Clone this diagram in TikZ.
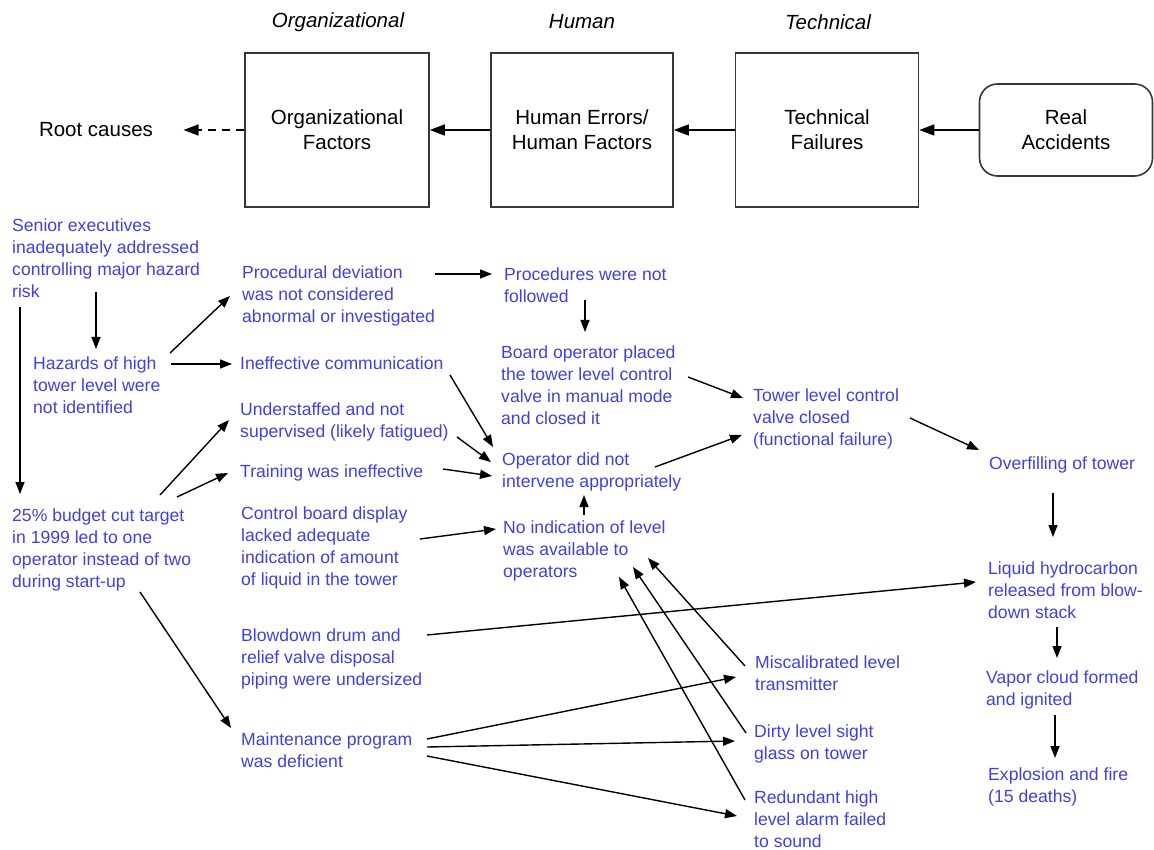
\documentclass[tikz,border=0pt]{standalone}
\usepackage{fontspec}
\setmainfont{Liberation Sans}
\usetikzlibrary{arrows.meta}
\definecolor{txtblue}{RGB}{64,64,224}
\definecolor{boxgray}{RGB}{55,55,55}
\begin{document}
\begin{tikzpicture}[x=1pt,y=-1pt,
  big/.style={font=\fontsize{20.5}{25}\selectfont, align=center},
  box/.style={big, draw=boxgray, line width=1.6pt, minimum height=154pt, inner sep=0pt},
  lbl/.style={font=\fontsize{20.5}{25}\selectfont\itshape},
  bt/.style={text=txtblue, font=\fontsize{17.6}{22}\selectfont, align=left, anchor=base west, inner sep=0pt},
  arr/.style={-{Triangle[length=12pt,width=9pt]}, line width=1.4pt},
  barr/.style={-{Triangle[length=15pt,width=11pt]}, line width=1.5pt},
]
\useasboundingbox (0,0) rectangle (1154,850);
% top row
\node[box, minimum width=184pt] (org) at (337,130) {Organizational\\Factors};
\node[box, minimum width=182pt] (hum) at (582,130) {Human Errors/\\Human Factors};
\node[box, minimum width=183pt] (tec) at (827,130) {Technical\\Failures};
\node[box, minimum width=173pt, minimum height=92pt, rounded corners=18pt] (real) at (1066,130) {Real\\Accidents};
\node[big] (rc) at (96,130) {Root causes};
\node[lbl] (lorg) at (338,22) {Organizational};
\node[lbl] (lhum) at (582,22) {Human};
\node[lbl] (ltec) at (828,22) {Technical};
\draw[barr] (hum.west) -- (org.east);
\draw[barr] (tec.west) -- (hum.east);
\draw[barr] (real.west) -- (tec.east);
\draw[barr, dash pattern=on 8pt off 6pt] (org.west) -- ([xshift=27pt]rc.east);
% blue texts (placed at the baseline of their last line)
\node[bt] (se) at (12,298) {Senior executives\\inadequately addressed\\controlling major hazard\\risk};
\node[bt] (hz) at (33,413) {Hazards of high\\tower level were\\not identified};
\node[bt] (bc) at (12,587) {25\% budget cut target\\in 1999 led to one\\operator instead of two\\during start-up};
\node[bt] (pd) at (242,323) {Procedural deviation\\was not considered\\abnormal or investigated};
\node[bt] (ic) at (240,370) {Ineffective communication};
\node[bt] (us) at (240,437) {Understaffed and not\\supervised (likely fatigued)};
\node[bt] (tr) at (240,477) {Training was ineffective};
\node[bt] (cb) at (241,585) {Control board display\\lacked adequate\\indication of amount\\of liquid in the tower};
\node[bt] (bd) at (241,685) {Blowdown drum and\\relief valve disposal\\piping were undersized};
\node[bt] (mp) at (241,767) {Maintenance program\\was deficient};
\node[bt] (pf) at (504,303) {Procedures were not\\followed};
\node[bt] (bo) at (501,424) {Board operator placed\\the tower level control\\valve in manual mode\\and closed it};
\node[bt] (od) at (502,487) {Operator did not\\intervene appropriately};
\node[bt] (ni) at (503,577) {No indication of level\\was available to\\operators};
\node[bt] (tl) at (753,445) {Tower level control\\valve closed\\(functional failure)};
\node[bt] (of) at (989,469) {Overfilling of tower};
\node[bt] (lh) at (988,618) {Liquid hydrocarbon\\released from blow-\\down stack};
\node[bt] (vc) at (986,705) {Vapor cloud formed\\and ignited};
\node[bt] (ef) at (988,802) {Explosion and fire\\(15 deaths)};
\node[bt] (mc) at (755,690) {Miscalibrated level\\transmitter};
\node[bt] (dl) at (754,759) {Dirty level sight\\glass on tower};
\node[bt] (rh) at (754,847) {Redundant high\\level alarm failed\\to sound};
% connectors
\draw[arr] ([shift={(84,-6)}]se.base west) -- ([shift={(63,-64)}]hz.base west);
\draw[arr] ([shift={(8,9)}]se.base west) -- ([shift={(8,-93)}]bc.base west);
\draw[arr] ([shift={(137,-60)}]hz.base west) -- ([shift={(-12,-27)}]pd.base west);
\draw[arr] ([shift={(138,-49)}]hz.base west) -- ([shift={(-8,-6)}]ic.base west);
\draw[arr] ([shift={(148,-92)}]bc.base west) -- ([shift={(-11,-17)}]us.base west);
\draw[arr] ([shift={(165,-90)}]bc.base west) -- ([shift={(-12,-4)}]tr.base west);
\draw[arr] ([shift={(128,5)}]bc.base west) -- ([shift={(-10,-39)}]mp.base west);
\draw[arr] ([shift={(193,-49)}]pd.base west) -- ([shift={(-12,-29)}]pf.base west);
\draw[arr] ([shift={(81,-3)}]pf.base west) -- ([shift={(84,-92)}]bo.base west);
\draw[arr] ([shift={(210,5)}]ic.base west) -- ([shift={(-9,-40)}]od.base west);
\draw[arr] ([shift={(217,0)}]us.base west) -- ([shift={(-11,-25)}]od.base west);
\draw[arr] ([shift={(203,-8)}]tr.base west) -- ([shift={(-10,-11)}]od.base west);
\draw[arr] ([shift={(179,-46)}]cb.base west) -- ([shift={(-7,-48)}]ni.base west);
\draw[arr] ([shift={(81,-62)}]ni.base west) -- ([shift={(82,8)}]od.base west);
\draw[arr] ([shift={(187,-47)}]bo.base west) -- ([shift={(-10,-47)}]tl.base west);
\draw[arr] ([shift={(153,-20)}]od.base west) -- ([shift={(-11,-10)}]tl.base west);
\draw[arr] ([shift={(157,-27)}]tl.base west) -- ([shift={(-10,-19)}]of.base west);
\draw[arr] ([shift={(64,24)}]of.base west) -- ([shift={(65,-81)}]lh.base west);
\draw[arr] ([shift={(69,9)}]lh.base west) -- ([shift={(71,-47)}]vc.base west);
\draw[arr] ([shift={(69,10)}]vc.base west) -- ([shift={(67,-44)}]ef.base west);
\draw[arr] ([shift={(186,-50)}]bd.base west) -- ([shift={(-12,-36)}]lh.base west);
\draw[arr] ([shift={(186,-28)}]mp.base west) -- ([shift={(-19,-13)}]mc.base west);
\draw[arr] ([shift={(186,-20)}]mp.base west) -- ([shift={(-19,-18)}]dl.base west);
\draw[arr] ([shift={(186,-11)}]mp.base west) -- ([shift={(-17,-31)}]rh.base west);
\draw[arr] ([shift={(-10,-24)}]mc.base west) -- ([shift={(145,-19)}]ni.base west);
\draw[arr] ([shift={(-8,-26)}]dl.base west) -- ([shift={(130,-10)}]ni.base west);
\draw[arr] ([shift={(-9,-47)}]rh.base west) -- ([shift={(116,0)}]ni.base west);
\end{tikzpicture}
\end{document}
